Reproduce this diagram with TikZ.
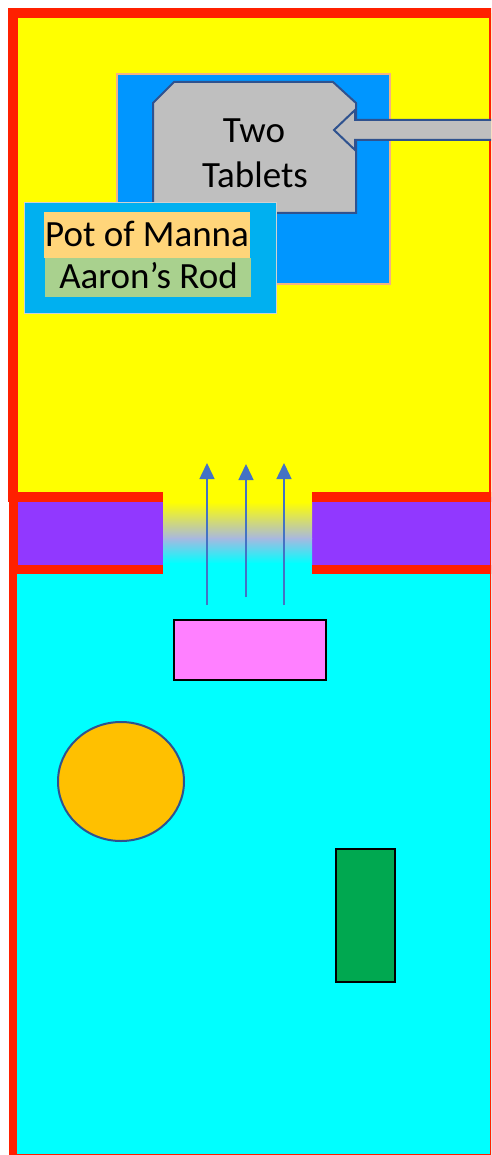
\documentclass[tikz,border=0pt]{standalone}
\usepackage{fontspec}
\setmainfont{Carlito}
\usetikzlibrary{arrows.meta,shapes.geometric}
\definecolor{bred}{RGB}{255,32,0}
\definecolor{byel}{RGB}{255,255,0}
\definecolor{bpur}{RGB}{145,56,255}
\definecolor{bcyan}{RGB}{0,255,255}
\definecolor{blav}{RGB}{168,184,224}
\definecolor{bblue}{RGB}{0,150,255}
\definecolor{blight}{RGB}{0,176,240}
\definecolor{bborder}{RGB}{244,177,131}
\definecolor{bgrey}{RGB}{191,191,191}
\definecolor{bedge}{RGB}{47,82,143}
\definecolor{borange}{RGB}{255,213,122}
\definecolor{bgreen}{RGB}{169,209,142}
\definecolor{bpink}{RGB}{255,128,255}
\definecolor{bgold}{RGB}{255,192,0}
\definecolor{bdgreen}{RGB}{0,168,80}
\definecolor{barrow}{RGB}{68,114,196}
\tikzset{
  zone/.style={draw=bred},
  boxed/.style={rectangle, inner sep=0pt, outer sep=0pt},
  lbl/.style={inner sep=0pt, anchor=base, font=\fontsize{37}{45}\selectfont},
  uparrow/.style={draw=barrow, line width=1.5pt, -{Triangle[width=15pt,length=16pt]}},
}
\begin{document}
\begin{tikzpicture}[x=1pt,y=-1pt]
\useasboundingbox (0,0) rectangle (491,1155);
\begin{scope}
\clip (0,0) rectangle (491,1155);
% purple band
\draw[zone, line width=9pt, fill=bpur] (13,496.5) rectangle (494,569.5);
% lower court
\draw[zone, line width=8.5pt, fill=bcyan] (13,569.5) rectangle (494,1158);
% upper room
\draw[zone, line width=10pt, fill=byel] (13,13) rectangle (494,496.5);
% gap with gradient
\fill[byel] (163,463) rectangle (312,503);
\shade[top color=byel, bottom color=blav] (163,502) rectangle (312,538.5);
\shade[top color=blav, bottom color=bcyan] (163,538) rectangle (312,563.5);
\fill[bcyan] (163,563) rectangle (312,575);
% arrows
\coordinate (a1s) at (207,605); \coordinate (a1e) at (207,463);
\coordinate (a2s) at (246,597); \coordinate (a2e) at (246,464);
\coordinate (a3s) at (284,605); \coordinate (a3e) at (284,463);
\draw[uparrow] (a1s) -- (a1e);
\draw[uparrow] (a2s) -- (a2e);
\draw[uparrow] (a3s) -- (a3e);
% lower objects
\node[boxed, draw=black, line width=2.5pt, fill=bpink, minimum width=152pt, minimum height=60pt] (altar) at (250,650) {};
\node[ellipse, draw=bedge, line width=2pt, fill=bgold, minimum width=126pt, minimum height=119pt, inner sep=0pt] (laver) at (121,781.5) {};
\node[boxed, draw=black, line width=2.5pt, fill=bdgreen, minimum width=59pt, minimum height=133pt] (table) at (365.5,915.5) {};
% ark
\node[boxed, draw=bborder, line width=1.5pt, fill=bblue, minimum width=273pt, minimum height=210pt] (ark) at (253.5,179) {};
\draw[bedge, line width=2pt, fill=bgrey] (153,103) -- (174,82) -- (333,82) -- (356,103) -- (356,213) -- (153,213) -- cycle;
\draw[bedge, line width=2pt, fill=bgrey] (505,120) -- (355,120) -- (355,110) -- (334,130) -- (355,150) -- (355,140) -- (505,140) -- cycle;
\node[lbl] (two) at (254,143) {Two};
\node[lbl] (tablets) at (255,188) {Tablets};
% pot and rod box
\node[boxed, draw=black!18, line width=1pt, fill=blight, minimum width=252pt, minimum height=110pt] (inner) at (150,258) {};
\node[boxed, fill=borange, minimum width=206pt, minimum height=46pt] (potbg) at (147,235) {};
\node[boxed, fill=bgreen, minimum width=206pt, minimum height=39pt] (rodbg) at (148,277.5) {};
\node[lbl] (pot) at (147,247) {Pot of Manna};
\node[lbl] (rod) at (148.5,288) {Aaron’s Rod};
\end{scope}
\end{tikzpicture}
\end{document}
